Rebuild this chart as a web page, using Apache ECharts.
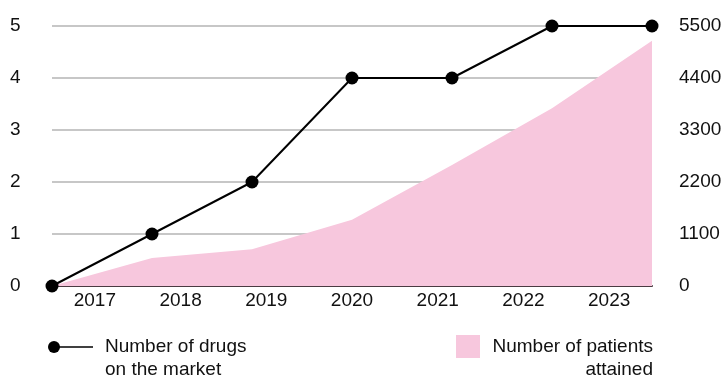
<!DOCTYPE html>
<html>
<head>
<meta charset="utf-8">
<script src="https://cdn.jsdelivr.net/npm/echarts@6/dist/echarts.min.js"></script>
<style>
  html, body { margin: 0; padding: 0; background: #fff; }
  #chart { width: 726px; height: 379px; }
</style>
</head>
<body>
<div id="chart"></div>
<script>
  // data
  const years = ['2017', '2018', '2019', '2020', '2021', '2022', '2023'];
  const drugs = [0, 1, 2, 4, 4, 5, 5];
  const patients = [0, 590, 780, 1400, 2560, 3760, 5190];
  const leftTicks = [0, 5, 1];      // min, max, interval
  const rightTicks = [0, 5500, 1100];

  const font = 'Liberation Sans, Arial, sans-serif';
  const pink = '#f7c7dd';
  const ink = '#111';

  let myChart = echarts.init(document.getElementById('chart'));

  myChart.setOption({
    animation: false,
    grid: { left: 52, right: 74, top: 26, bottom: 93, containLabel: false },
    xAxis: [
      {
        // year labels sit in bands
        type: 'category',
        data: years,
        boundaryGap: true,
        axisLine: { show: true, lineStyle: { color: '#4a3b42', width: 2 } },
        axisTick: { show: false },
        axisLabel: { color: ink, fontSize: 19, fontFamily: font, margin: 5 }
      },
      {
        // points sit on the edges
        type: 'category',
        data: years,
        boundaryGap: false,
        show: false
      }
    ],
    yAxis: [
      {
        type: 'value',
        min: leftTicks[0], max: leftTicks[1], interval: leftTicks[2],
        position: 'left',
        axisLine: { show: false },
        axisTick: { show: false },
        splitLine: { lineStyle: { color: '#b5b5b5', width: 1.5 } },
        axisLabel: { color: ink, fontSize: 19, fontFamily: font, align: 'left', margin: 42 }
      },
      {
        type: 'value',
        min: rightTicks[0], max: rightTicks[1], interval: rightTicks[2],
        position: 'right',
        axisLine: { show: false },
        axisTick: { show: false },
        splitLine: { show: false },
        axisLabel: {
          color: ink, fontSize: 19, fontFamily: font, align: 'left', margin: 27,
          formatter: function (v) { return String(v); }
        }
      }
    ],
    series: [
      {
        name: 'Number of patients attained',
        type: 'line',
        xAxisIndex: 1,
        yAxisIndex: 1,
        data: patients,
        symbol: 'none',
        lineStyle: { width: 0 },
        areaStyle: { color: pink, opacity: 1 },
        z: 1
      },
      {
        name: 'Number of drugs on the market',
        type: 'line',
        xAxisIndex: 1,
        yAxisIndex: 0,
        data: drugs,
        symbol: 'circle',
        symbolSize: 13,
        itemStyle: { color: '#000' },
        lineStyle: { color: '#000', width: 2 },
        z: 3
      }
    ],
    graphic: [
      // legend drawn by hand
      { type: 'line', shape: { x1: 53, y1: 347, x2: 93, y2: 347 }, style: { stroke: '#000', lineWidth: 1.5 } },
      { type: 'circle', shape: { cx: 54, cy: 347, r: 6 }, style: { fill: '#000' } },
      {
        type: 'text', x: 105, y: 358.5,
        style: {
          text: 'Number of drugs\non the market', font: '19px ' + font, fill: ink,
          lineHeight: 23, verticalAlign: 'middle', align: 'left'
        }
      },
      { type: 'rect', shape: { x: 456, y: 335, width: 24, height: 23 }, style: { fill: pink } },
      {
        type: 'text', x: 653, y: 358.5,
        style: {
          text: 'Number of patients\nattained', font: '19px ' + font, fill: ink,
          lineHeight: 23, verticalAlign: 'middle', align: 'right'
        }
      }
    ]
  });
</script>
</body>
</html>
